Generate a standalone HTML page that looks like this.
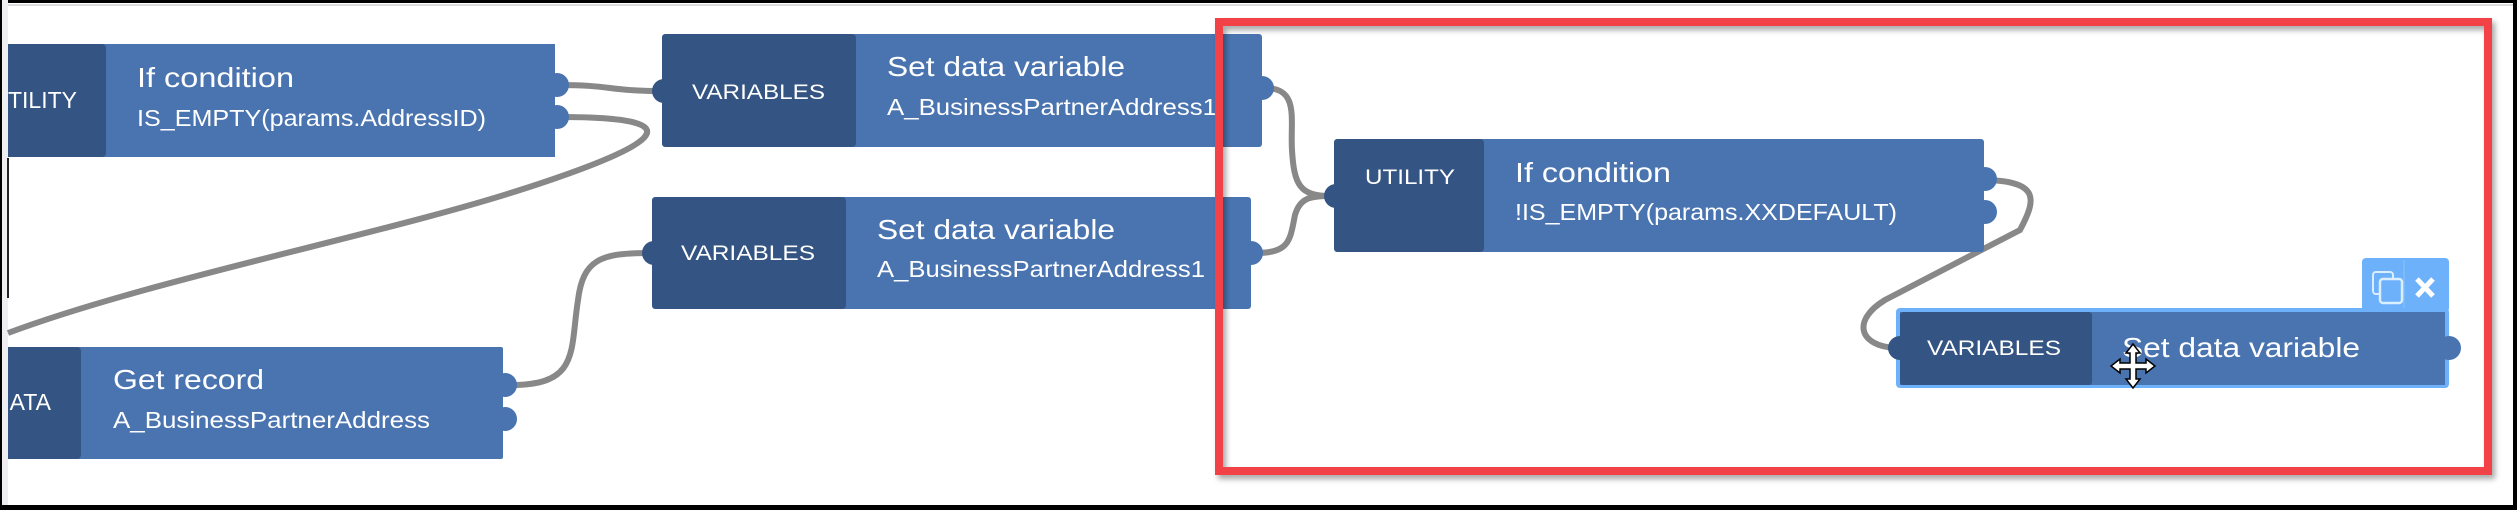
<!DOCTYPE html>
<html><head><meta charset="utf-8"><style>
html,body{margin:0;padding:0;background:#fff;}
svg{display:block;}
text{font-family:"Liberation Sans",sans-serif;fill:#fff;}
</style></head><body>
<svg width="2517" height="510" viewBox="0 0 2517 510" xmlns="http://www.w3.org/2000/svg">
<defs>
<filter id="sh" x="-5%" y="-5%" width="110%" height="115%"><feDropShadow dx="3" dy="4" stdDeviation="3" flood-color="#000" flood-opacity="0.35"/></filter>
</defs>
<rect x="0" y="0" width="2517" height="510" fill="#fff"/>
<rect x="0" y="0" width="2517" height="3" fill="#000"/>
<rect x="0" y="4" width="2517" height="2" fill="#ddd"/>
<rect x="0" y="0" width="8" height="510" fill="#eeeef0"/>
<rect x="0" y="0" width="2" height="510" fill="#000"/>
<rect x="2513" y="0" width="4" height="510" fill="#000"/>
<rect x="0" y="505" width="2517" height="5" fill="#000"/>
<rect x="7" y="158" width="2" height="140" fill="#222"/>

<!-- wires -->
<g fill="none" stroke="#888" stroke-width="6">
<path d="M560 85 C610 85 610 91 660 91"/>
<path d="M560 117 C700 117 660 145 520 190 C380 235 150 280 8 333"/>
<path d="M512 385 C580 385 570 350 578 300 C583 260 600 253 648 253"/>
<path d="M1265 88 C1300 88 1290 120 1292 150 C1294 185 1300 196 1330 196"/>
<path d="M1256 253 C1290 253 1290 240 1295 215 C1300 198 1310 196 1330 196"/>
<path d="M1988 180 C2040 182 2036 200 2020 230 L1885 300 C1852 320 1858 346 1896 348"/>
</g>

<!-- Node A -->
<rect x="8" y="44" width="547" height="113" fill="#4a74b0"/>
<rect x="8" y="44" width="98" height="113" rx="4" fill="#345483"/>
<rect x="8" y="44" width="90" height="113" fill="#345483"/>
<circle cx="557" cy="85" r="12" fill="#4a74b0"/>
<circle cx="557" cy="117" r="12" fill="#4a74b0"/>
<text x="77" y="108" font-size="23" text-anchor="end">TILITY</text>
<text x="137" y="87" font-size="28" textLength="157" lengthAdjust="spacingAndGlyphs">If condition</text>
<text x="137" y="126" font-size="23" textLength="349" lengthAdjust="spacingAndGlyphs">IS_EMPTY(params.AddressID)</text>

<!-- Node B -->
<rect x="662" y="34" width="600" height="113" rx="3" fill="#4a74b0"/>
<rect x="662" y="34" width="194" height="113" rx="4" fill="#345483"/>
<circle cx="664" cy="91" r="12" fill="#345483"/>
<circle cx="1262" cy="88" r="12" fill="#4a74b0"/>
<text x="692" y="99" font-size="21" textLength="133" lengthAdjust="spacingAndGlyphs">VARIABLES</text>
<text x="887" y="76" font-size="28" textLength="238" lengthAdjust="spacingAndGlyphs">Set data variable</text>
<text x="887" y="115" font-size="23" textLength="330" lengthAdjust="spacingAndGlyphs">A_BusinessPartnerAddress1</text>

<!-- Node C -->
<rect x="652" y="197" width="599" height="112" rx="3" fill="#4a74b0"/>
<rect x="652" y="197" width="194" height="112" rx="4" fill="#345483"/>
<circle cx="654" cy="253" r="12" fill="#345483"/>
<circle cx="1251" cy="253" r="12" fill="#4a74b0"/>
<text x="681" y="260" font-size="21" textLength="134" lengthAdjust="spacingAndGlyphs">VARIABLES</text>
<text x="877" y="239" font-size="28" textLength="238" lengthAdjust="spacingAndGlyphs">Set data variable</text>
<text x="877" y="277" font-size="23" textLength="328" lengthAdjust="spacingAndGlyphs">A_BusinessPartnerAddress1</text>

<!-- Node D -->
<rect x="8" y="347" width="495" height="112" rx="2" fill="#4a74b0"/>
<rect x="8" y="347" width="73" height="112" rx="4" fill="#345483"/>
<rect x="8" y="347" width="60" height="112" fill="#345483"/>
<circle cx="505" cy="385" r="12" fill="#4a74b0"/>
<circle cx="505" cy="419" r="12" fill="#4a74b0"/>
<text x="51" y="410" font-size="23" text-anchor="end">ATA</text>
<text x="113" y="389" font-size="28" textLength="151" lengthAdjust="spacingAndGlyphs">Get record</text>
<text x="113" y="428" font-size="23" textLength="317" lengthAdjust="spacingAndGlyphs">A_BusinessPartnerAddress</text>

<!-- red highlight -->
<rect x="1219" y="22" width="1269" height="449" fill="none" stroke="#f24347" stroke-width="8" filter="url(#sh)"/>

<!-- Node E -->
<rect x="1334" y="139" width="650" height="113" rx="3" fill="#4a74b0"/>
<rect x="1334" y="139" width="150" height="113" rx="4" fill="#345483"/>
<circle cx="1336" cy="196" r="12" fill="#345483"/>
<circle cx="1985" cy="179" r="12" fill="#4a74b0"/>
<circle cx="1985" cy="212" r="12" fill="#4a74b0"/>
<text x="1365" y="184" font-size="21" textLength="90" lengthAdjust="spacingAndGlyphs">UTILITY</text>
<text x="1515" y="182" font-size="28" textLength="156" lengthAdjust="spacingAndGlyphs">If condition</text>
<text x="1515" y="220" font-size="23" textLength="382" lengthAdjust="spacingAndGlyphs">!IS_EMPTY(params.XXDEFAULT)</text>

<!-- Node F -->
<rect x="2362" y="258" width="87" height="54" rx="4" fill="#6cb1fa"/>
<line x1="2404" y1="260" x2="2404" y2="308" stroke="#8ec3fb" stroke-width="1"/>
<rect x="2373" y="272" width="20" height="22" rx="3" fill="none" stroke="#dbeeff" stroke-width="2"/>
<rect x="2380" y="279" width="22" height="24" rx="3" fill="#6cb1fa" stroke="#dbeeff" stroke-width="2.5"/>
<path d="M2417 279 L2433 296 M2433 279 L2417 296" stroke="#fff" stroke-width="5"/>
<rect x="1896" y="308" width="553" height="80" rx="4" fill="#6cb1fa"/>
<rect x="1900" y="312" width="545" height="73" fill="#4a74b0"/>
<rect x="1900" y="312" width="192" height="73" rx="3" fill="#345483"/>
<circle cx="1900" cy="348" r="12" fill="#345483"/>
<circle cx="2449" cy="348" r="12" fill="#4a74b0"/>
<text x="1927" y="355" font-size="21" textLength="134" lengthAdjust="spacingAndGlyphs">VARIABLES</text>
<text x="2122" y="357" font-size="28" textLength="238" lengthAdjust="spacingAndGlyphs">Set data variable</text>
<g transform="translate(2133,366)" fill="#fff" stroke="#000" stroke-width="1.5">
<path d="M0 -22 L-7 -13 L-3 -13 L-3 -3 L-13 -3 L-13 -7 L-22 0 L-13 7 L-13 3 L-3 3 L-3 13 L-7 13 L0 22 L7 13 L3 13 L3 3 L13 3 L13 7 L22 0 L13 -7 L13 -3 L3 -3 L3 -13 L7 -13 Z"/>
</g>
</svg>
</body></html>
